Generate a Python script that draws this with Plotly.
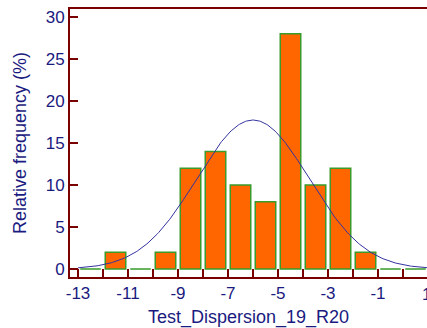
import numpy as np
import plotly.graph_objects as go

# Histogram bins (lower edges, width 1) and relative frequencies (%)
bin_left = [-13, -12, -11, -10, -9, -8, -7, -6, -5, -4, -3, -2, -1, 0]
freq_pct = [0, 2, 0, 2, 12, 14, 10, 8, 28, 10, 12, 2, 0, 0]

# Fitted normal distribution parameters
fit_mean = -6.0
fit_sd = 2.25
bin_width = 1.0

x_tick_vals = list(range(-13, 1))
x_tick_text = [str(v) if v % 2 else "" for v in x_tick_vals]
y_tick_vals = [0, 5, 10, 15, 20, 25, 30]

navy = "#1a1a80"
axis_red = "#7a0000"
font_family = "Liberation Sans, Arial, sans-serif"

x_range = [-13.32, 0.96]

centers = [b + bin_width / 2 for b in bin_left]

curve_x = np.linspace(-13, 1.2, 300)
curve_y = 100 * bin_width / (fit_sd * np.sqrt(2 * np.pi)) * np.exp(
    -0.5 * ((curve_x - fit_mean) / fit_sd) ** 2)

fig = go.Figure()
fig.add_trace(go.Bar(
    x=centers, y=freq_pct, width=0.82,
    marker=dict(color="#ff6600", line=dict(color="#3a9a2a", width=1.5)),
    showlegend=False,
))
fig.add_trace(go.Scatter(
    x=curve_x, y=curve_y, mode="lines",
    line=dict(color="#3333a0", width=1),
    showlegend=False,
))

fig.update_layout(
    width=427, height=328,
    margin=dict(l=70, r=0, t=9, b=51),
    plot_bgcolor="white", paper_bgcolor="white",
    font=dict(family=font_family, size=17, color=navy),
    xaxis=dict(
        range=x_range,
        tickvals=x_tick_vals, ticktext=x_tick_text,
        ticks="inside", ticklen=8, tickwidth=1.5, tickcolor=axis_red,
        showline=True, linecolor=axis_red, linewidth=2, mirror=True,
        showgrid=False, zeroline=False,
        title=dict(text="Test_Dispersion_19_R20", standoff=8,
                   font=dict(size=18, color=navy)),
    ),
    yaxis=dict(
        range=[-0.95, 30.95],
        tickvals=y_tick_vals,
        ticks="inside", ticklen=8, tickwidth=1.5, tickcolor=axis_red,
        showline=True, linecolor=axis_red, linewidth=2,
        showgrid=False, zeroline=False,
        title=dict(text="Relative frequency (%)", standoff=14,
                   font=dict(size=18, color=navy)),
    ),
)

# Tick label at x = 1 sits on the right edge of the figure, partly cut off
fig.add_annotation(
    x=(1 - x_range[0]) / (x_range[1] - x_range[0]), y=0,
    xref="paper", yref="paper",
    yanchor="top", yshift=-6, xshift=5, text="1", showarrow=False,
    font=dict(size=17, color=navy),
)

fig.write_html("out.html")
